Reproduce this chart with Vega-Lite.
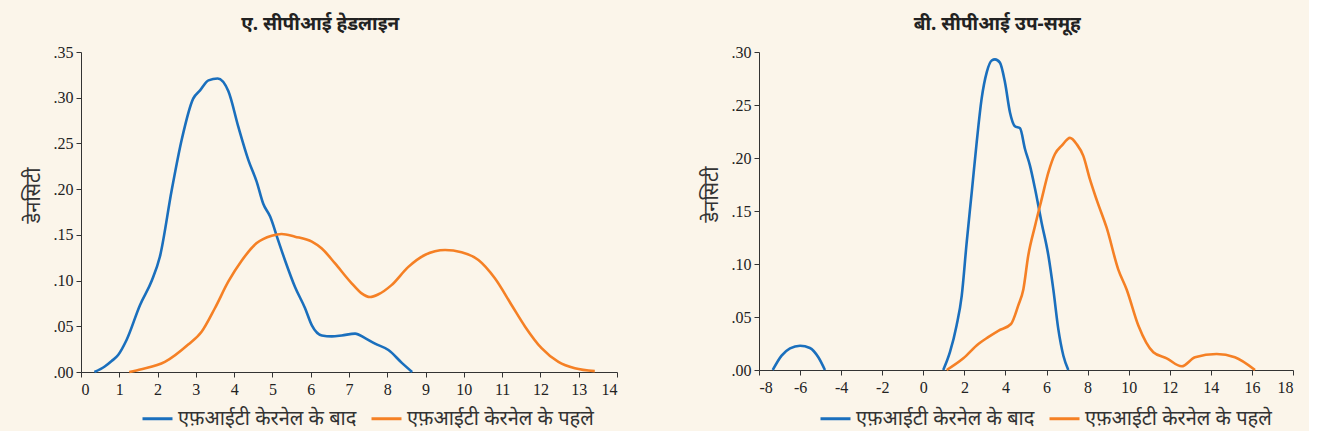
{
  "$schema": "https://vega.github.io/schema/vega-lite/v6.json",
  "background": "#fbf5ea",
  "padding": {"left": 23, "top": 15, "right": 15, "bottom": 2},
  "spacing": 142,
  "bounds": "flush",
  "config": {
    "font": "Noto Sans",
    "view": {"stroke": null},
    "title": {"fontSize": 19, "fontWeight": "bold", "color": "#222222", "anchor": "middle", "frame": "bounds", "offset": 10},
    "axis": {
      "grid": false,
      "domainColor": "#333333",
      "tickColor": "#333333",
      "tickSize": 5,
      "labelFont": "Liberation Serif",
      "labelFontSize": 16,
      "labelColor": "#222222",
      "titleFont": "Noto Sans",
      "titleFontSize": 20,
      "titleFontWeight": "normal",
      "titleColor": "#333333"
    },
    "legend": {
      "orient": "none",
      "legendX": 60,
      "legendY": 350,
      "direction": "horizontal",
      "title": null,
      "symbolType": "stroke",
      "symbolSize": 900,
      "symbolStrokeWidth": 3,
      "labelFontSize": 20,
      "labelLimit": 400,
      "labelColor": "#333333",
      "labelFont": "Noto Sans",
      "columnPadding": 8
    }
  },
  "datasets": {
    "a": [
      {"x": 0.35, "d": 0, "s": "एफ़आईटी केरनेल के बाद"},
      {"x": 0.62, "d": 0.006, "s": "एफ़आईटी केरनेल के बाद"},
      {"x": 0.80, "d": 0.012, "s": "एफ़आईटी केरनेल के बाद"},
      {"x": 0.97, "d": 0.0186, "s": "एफ़आईटी केरनेल के बाद"},
      {"x": 1.19, "d": 0.035, "s": "एफ़आईटी केरनेल के बाद"},
      {"x": 1.54, "d": 0.073, "s": "एफ़आईटी केरनेल के बाद"},
      {"x": 1.85, "d": 0.100, "s": "एफ़आईटी केरनेल के बाद"},
      {"x": 2.06, "d": 0.126, "s": "एफ़आईटी केरनेल के बाद"},
      {"x": 2.37, "d": 0.199, "s": "एफ़आईटी केरनेल के बाद"},
      {"x": 2.63, "d": 0.254, "s": "एफ़आईटी केरनेल के बाद"},
      {"x": 2.93, "d": 0.299, "s": "एफ़आईटी केरनेल के बाद"},
      {"x": 3.11, "d": 0.308, "s": "एफ़आईटी केरनेल के बाद"},
      {"x": 3.33, "d": 0.319, "s": "एफ़आईटी केरनेल के बाद"},
      {"x": 3.57, "d": 0.321, "s": "एफ़आईटी केरनेल के बाद"},
      {"x": 3.85, "d": 0.307, "s": "एफ़आईटी केरनेल के बाद"},
      {"x": 4.11, "d": 0.268, "s": "एफ़आईटी केरनेल के बाद"},
      {"x": 4.37, "d": 0.232, "s": "एफ़आईटी केरनेल के बाद"},
      {"x": 4.59, "d": 0.208, "s": "एफ़आईटी केरनेल के बाद"},
      {"x": 4.76, "d": 0.184, "s": "एफ़आईटी केरनेल के बाद"},
      {"x": 4.94, "d": 0.170, "s": "एफ़आईटी केरनेल के बाद"},
      {"x": 5.15, "d": 0.144, "s": "एफ़आईटी केरनेल के बाद"},
      {"x": 5.33, "d": 0.122, "s": "एफ़आईटी केरनेल के बाद"},
      {"x": 5.59, "d": 0.093, "s": "एफ़आईटी केरनेल के बाद"},
      {"x": 5.85, "d": 0.070, "s": "एफ़आईटी केरनेल के बाद"},
      {"x": 6.03, "d": 0.051, "s": "एफ़आईटी केरनेल के बाद"},
      {"x": 6.29, "d": 0.040, "s": "एफ़आईटी केरनेल के बाद"},
      {"x": 6.55, "d": 0.039, "s": "एफ़आईटी केरनेल के बाद"},
      {"x": 6.81, "d": 0.040, "s": "एफ़आईटी केरनेल के बाद"},
      {"x": 7.16, "d": 0.042, "s": "एफ़आईटी केरनेल के बाद"},
      {"x": 7.42, "d": 0.037, "s": "एफ़आईटी केरनेल के बाद"},
      {"x": 7.68, "d": 0.031, "s": "एफ़आईटी केरनेल के बाद"},
      {"x": 8.03, "d": 0.024, "s": "एफ़आईटी केरनेल के बाद"},
      {"x": 8.38, "d": 0.010, "s": "एफ़आईटी केरनेल के बाद"},
      {"x": 8.65, "d": 0, "s": "एफ़आईटी केरनेल के बाद"},
      {"x": 1.26, "d": 0, "s": "एफ़आईटी केरनेल के पहले"},
      {"x": 1.58, "d": 0.003, "s": "एफ़आईटी केरनेल के पहले"},
      {"x": 2.19, "d": 0.011, "s": "एफ़आईटी केरनेल के पहले"},
      {"x": 2.80, "d": 0.030, "s": "एफ़आईटी केरनेल के पहले"},
      {"x": 3.15, "d": 0.044, "s": "एफ़आईटी केरनेल के पहले"},
      {"x": 3.50, "d": 0.070, "s": "एफ़आईटी केरनेल के पहले"},
      {"x": 3.85, "d": 0.099, "s": "एफ़आईटी केरनेल के पहले"},
      {"x": 4.20, "d": 0.122, "s": "एफ़आईटी केरनेल के पहले"},
      {"x": 4.59, "d": 0.141, "s": "एफ़आईटी केरनेल के पहले"},
      {"x": 4.98, "d": 0.149, "s": "एफ़आईटी केरनेल के पहले"},
      {"x": 5.24, "d": 0.151, "s": "एफ़आईटी केरनेल के पहले"},
      {"x": 5.59, "d": 0.148, "s": "एफ़आईटी केरनेल के पहले"},
      {"x": 6.03, "d": 0.1425, "s": "एफ़आईटी केरनेल के पहले"},
      {"x": 6.29, "d": 0.135, "s": "एफ़आईटी केरनेल के पहले"},
      {"x": 6.63, "d": 0.119, "s": "एफ़आईटी केरनेल के पहले"},
      {"x": 7.07, "d": 0.097, "s": "एफ़आईटी केरनेल के पहले"},
      {"x": 7.33, "d": 0.086, "s": "एफ़आईटी केरनेल के पहले"},
      {"x": 7.55, "d": 0.082, "s": "एफ़आईटी केरनेल के पहले"},
      {"x": 7.77, "d": 0.085, "s": "एफ़आईटी केरनेल के पहले"},
      {"x": 8.11, "d": 0.095, "s": "एफ़आईटी केरनेल के पहले"},
      {"x": 8.55, "d": 0.115, "s": "एफ़आईटी केरनेल के पहले"},
      {"x": 8.98, "d": 0.128, "s": "एफ़आईटी केरनेल के पहले"},
      {"x": 9.51, "d": 0.1334, "s": "एफ़आईटी केरनेल के पहले"},
      {"x": 9.94, "d": 0.131, "s": "एफ़आईटी केरनेल के पहले"},
      {"x": 10.38, "d": 0.1225, "s": "एफ़आईटी केरनेल के पहले"},
      {"x": 10.81, "d": 0.1025, "s": "एफ़आईटी केरनेल के पहले"},
      {"x": 11.25, "d": 0.073, "s": "एफ़आईटी केरनेल के पहले"},
      {"x": 11.60, "d": 0.0496, "s": "एफ़आईटी केरनेल के पहले"},
      {"x": 12.03, "d": 0.026, "s": "एफ़आईटी केरनेल के पहले"},
      {"x": 12.47, "d": 0.011, "s": "एफ़आईटी केरनेल के पहले"},
      {"x": 12.90, "d": 0.004, "s": "एफ़आईटी केरनेल के पहले"},
      {"x": 13.42, "d": 0.001, "s": "एफ़आईटी केरनेल के पहले"}
    ],
    "b": [
      {"x": -7.33, "d": 0, "s": "एफ़आईटी केरनेल के बाद", "g": 1},
      {"x": -6.90, "d": 0.0135, "s": "एफ़आईटी केरनेल के बाद", "g": 1},
      {"x": -6.49, "d": 0.0204, "s": "एफ़आईटी केरनेल के बाद", "g": 1},
      {"x": -6.00, "d": 0.0229, "s": "एफ़आईटी केरनेल के बाद", "g": 1},
      {"x": -5.52, "d": 0.0208, "s": "एफ़आईटी केरनेल के बाद", "g": 1},
      {"x": -5.11, "d": 0.012, "s": "एफ़आईटी केरनेल के बाद", "g": 1},
      {"x": -4.79, "d": 0, "s": "एफ़आईटी केरनेल के बाद", "g": 1},
      {"x": 0.97, "d": 0, "s": "एफ़आईटी केरनेल के बाद", "g": 2},
      {"x": 1.30, "d": 0.017, "s": "एफ़आईटी केरनेल के बाद", "g": 2},
      {"x": 1.62, "d": 0.042, "s": "एफ़आईटी केरनेल के बाद", "g": 2},
      {"x": 1.87, "d": 0.070, "s": "एफ़आईटी केरनेल के बाद", "g": 2},
      {"x": 2.11, "d": 0.120, "s": "एफ़आईटी केरनेल के बाद", "g": 2},
      {"x": 2.36, "d": 0.168, "s": "एफ़आईटी केरनेल के बाद", "g": 2},
      {"x": 2.60, "d": 0.215, "s": "एफ़आईटी केरनेल के बाद", "g": 2},
      {"x": 2.84, "d": 0.256, "s": "एफ़आईटी केरनेल के बाद", "g": 2},
      {"x": 3.09, "d": 0.281, "s": "एफ़आईटी केरनेल के बाद", "g": 2},
      {"x": 3.33, "d": 0.292, "s": "एफ़आईटी केरनेल के बाद", "g": 2},
      {"x": 3.49, "d": 0.293, "s": "एफ़आईटी केरनेल के बाद", "g": 2},
      {"x": 3.73, "d": 0.290, "s": "एफ़आईटी केरनेल के बाद", "g": 2},
      {"x": 3.98, "d": 0.271, "s": "एफ़आईटी केरनेल के बाद", "g": 2},
      {"x": 4.22, "d": 0.243, "s": "एफ़आईटी केरनेल के बाद", "g": 2},
      {"x": 4.46, "d": 0.230, "s": "एफ़आईटी केरनेल के बाद", "g": 2},
      {"x": 4.71, "d": 0.228, "s": "एफ़आईटी केरनेल के बाद", "g": 2},
      {"x": 4.95, "d": 0.2085, "s": "एफ़आईटी केरनेल के बाद", "g": 2},
      {"x": 5.19, "d": 0.193, "s": "एफ़आईटी केरनेल के बाद", "g": 2},
      {"x": 5.44, "d": 0.171, "s": "एफ़आईटी केरनेल के बाद", "g": 2},
      {"x": 5.76, "d": 0.139, "s": "एफ़आईटी केरनेल के बाद", "g": 2},
      {"x": 6.09, "d": 0.108, "s": "एफ़आईटी केरनेल के बाद", "g": 2},
      {"x": 6.33, "d": 0.076, "s": "एफ़आईटी केरनेल के बाद", "g": 2},
      {"x": 6.57, "d": 0.039, "s": "एफ़आईटी केरनेल के बाद", "g": 2},
      {"x": 6.82, "d": 0.0135, "s": "एफ़आईटी केरनेल के बाद", "g": 2},
      {"x": 7.06, "d": 0, "s": "एफ़आईटी केरनेल के बाद", "g": 2},
      {"x": 1.14, "d": 0, "s": "एफ़आईटी केरनेल के पहले", "g": 3},
      {"x": 1.95, "d": 0.011, "s": "एफ़आईटी केरनेल के पहले", "g": 3},
      {"x": 2.68, "d": 0.0245, "s": "एफ़आईटी केरनेल के पहले", "g": 3},
      {"x": 3.16, "d": 0.031, "s": "एफ़आईटी केरनेल के पहले", "g": 3},
      {"x": 3.65, "d": 0.037, "s": "एफ़आईटी केरनेल के पहले", "g": 3},
      {"x": 4.27, "d": 0.0434, "s": "एफ़आईटी केरनेल के पहले", "g": 3},
      {"x": 4.62, "d": 0.0607, "s": "एफ़आईटी केरनेल के पहले", "g": 3},
      {"x": 4.87, "d": 0.076, "s": "एफ़आईटी केरनेल के पहले", "g": 3},
      {"x": 5.11, "d": 0.108, "s": "एफ़आईटी केरनेल के पहले", "g": 3},
      {"x": 5.44, "d": 0.136, "s": "एफ़आईटी केरनेल के पहले", "g": 3},
      {"x": 5.76, "d": 0.161, "s": "एफ़आईटी केरनेल के पहले", "g": 3},
      {"x": 6.09, "d": 0.1865, "s": "एफ़आईटी केरनेल के पहले", "g": 3},
      {"x": 6.41, "d": 0.2038, "s": "एफ़आईटी केरनेल के पहले", "g": 3},
      {"x": 6.74, "d": 0.2116, "s": "एफ़आईटी केरनेल के पहले", "g": 3},
      {"x": 7.14, "d": 0.219, "s": "एफ़आईटी केरनेल के पहले", "g": 3},
      {"x": 7.47, "d": 0.213, "s": "एफ़आईटी केरनेल के पहले", "g": 3},
      {"x": 7.79, "d": 0.202, "s": "एफ़आईटी केरनेल के पहले", "g": 3},
      {"x": 8.11, "d": 0.180, "s": "एफ़आईटी केरनेल के पहले", "g": 3},
      {"x": 8.45, "d": 0.160, "s": "एफ़आईटी केरनेल के पहले", "g": 3},
      {"x": 8.93, "d": 0.134, "s": "एफ़आईटी केरनेल के पहले", "g": 3},
      {"x": 9.49, "d": 0.095, "s": "एफ़आईटी केरनेल के पहले", "g": 3},
      {"x": 9.90, "d": 0.076, "s": "एफ़आईटी केरनेल के पहले", "g": 3},
      {"x": 10.47, "d": 0.042, "s": "एफ़आईटी केरनेल के पहले", "g": 3},
      {"x": 11.20, "d": 0.0167, "s": "एफ़आईटी केरनेल के पहले", "g": 3},
      {"x": 11.85, "d": 0.011, "s": "एफ़आईटी केरनेल के पहले", "g": 3},
      {"x": 12.58, "d": 0.0035, "s": "एफ़आईटी केरनेल के पहले", "g": 3},
      {"x": 13.23, "d": 0.012, "s": "एफ़आईटी केरनेल के पहले", "g": 3},
      {"x": 14.28, "d": 0.0151, "s": "एफ़आईटी केरनेल के पहले", "g": 3},
      {"x": 15.17, "d": 0.012, "s": "एफ़आईटी केरनेल के पहले", "g": 3},
      {"x": 16.15, "d": 0, "s": "एफ़आईटी केरनेल के पहले", "g": 3}
    ]
  },
  "resolve": {"scale": {"color": "independent", "x": "independent", "y": "independent"}},
  "hconcat": [
    {
      "data": {"name": "a"},
      "title": "ए. सीपीआई हेडलाइन",
      "width": 536,
      "height": 320,
      "mark": {"type": "line", "strokeWidth": 2.6, "interpolate": "monotone"},
      "encoding": {
        "x": {"field": "x", "type": "quantitative", "scale": {"domain": [0, 14], "nice": false},
              "axis": {"title": null, "values": [0,1,2,3,4,5,6,7,8,9,10,11,12,13,14], "labelPadding": 4}},
        "y": {"field": "d", "type": "quantitative", "scale": {"domain": [0, 0.35], "nice": false},
              "axis": {"title": "डेनसिटी", "values": [0, 0.05, 0.1, 0.15, 0.2, 0.25, 0.3, 0.35],
                       "labelExpr": "substring(format(datum.value, '.2f'), 1)", "titlePadding": 10, "labelPadding": 3, "titleY": 143}},
        "color": {"field": "s", "type": "nominal",
                  "scale": {"domain": ["एफ़आईटी केरनेल के बाद", "एफ़आईटी केरनेल के पहले"], "range": ["#1a6fbd", "#f58025"]}}
      }
    },
    {
      "data": {"name": "b"},
      "title": "बी. सीपीआई उप-समूह",
      "width": 534,
      "height": 318,
      "mark": {"type": "line", "strokeWidth": 2.6, "interpolate": "monotone"},
      "encoding": {
        "x": {"field": "x", "type": "quantitative", "scale": {"domain": [-8, 18], "nice": false},
              "axis": {"title": null, "values": [-8,-6,-4,-2,0,2,4,6,8,10,12,14,16,18],
                       "labelExpr": "datum.value < 0 ? '-' + abs(datum.value) : '' + datum.value", "labelPadding": 4}},
        "y": {"field": "d", "type": "quantitative", "scale": {"domain": [0, 0.30], "nice": false},
              "axis": {"title": "डेनसिटी", "values": [0, 0.05, 0.1, 0.15, 0.2, 0.25, 0.3],
                       "labelExpr": "substring(format(datum.value, '.2f'), 1)", "titlePadding": 10, "labelPadding": 3, "titleY": 142}},
        "color": {"field": "s", "type": "nominal",
                  "scale": {"domain": ["एफ़आईटी केरनेल के बाद", "एफ़आईटी केरनेल के पहले"], "range": ["#1a6fbd", "#f58025"]}},
        "detail": {"field": "g", "type": "nominal"}
      }
    }
  ]
}
